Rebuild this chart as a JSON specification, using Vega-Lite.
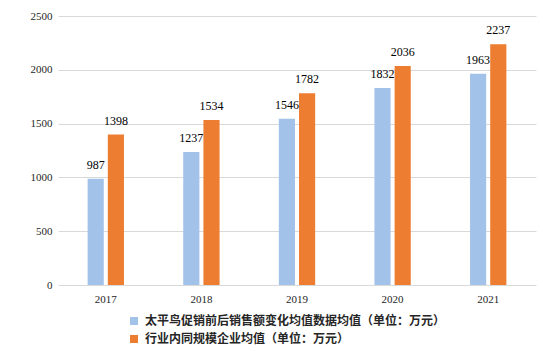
{
  "$schema": "https://vega.github.io/schema/vega-lite/v6.json",
  "width": 478,
  "height": 269,
  "autosize": "none",
  "padding": {"left": 58, "top": 16, "right": 7, "bottom": 66},
  "background": "white",
  "data": {
    "values": [
      {"year": "2017", "series": "太平鸟促销前后销售额变化均值数据均值（单位：万元）", "value": 987},
      {"year": "2017", "series": "行业内同规模企业均值（单位：万元）", "value": 1398},
      {"year": "2018", "series": "太平鸟促销前后销售额变化均值数据均值（单位：万元）", "value": 1237},
      {"year": "2018", "series": "行业内同规模企业均值（单位：万元）", "value": 1534},
      {"year": "2019", "series": "太平鸟促销前后销售额变化均值数据均值（单位：万元）", "value": 1546},
      {"year": "2019", "series": "行业内同规模企业均值（单位：万元）", "value": 1782},
      {"year": "2020", "series": "太平鸟促销前后销售额变化均值数据均值（单位：万元）", "value": 1832},
      {"year": "2020", "series": "行业内同规模企业均值（单位：万元）", "value": 2036},
      {"year": "2021", "series": "太平鸟促销前后销售额变化均值数据均值（单位：万元）", "value": 1963},
      {"year": "2021", "series": "行业内同规模企业均值（单位：万元）", "value": 2237}
    ]
  },
  "encoding": {
    "x": {
      "field": "year", "type": "nominal",
      "scale": {"paddingInner": 0.62, "paddingOuter": 0.31},
      "axis": {
        "title": null, "labelAngle": 0, "ticks": false, "domain": false,
        "labelFont": "Liberation Serif", "labelFontSize": 11, "labelColor": "#262626", "labelPadding": 8
      }
    },
    "xOffset": {
      "field": "series", "type": "nominal",
      "scale": {"paddingInner": 0.2, "domain": ["太平鸟促销前后销售额变化均值数据均值（单位：万元）", "行业内同规模企业均值（单位：万元）"]}
    },
    "y": {
      "field": "value", "type": "quantitative",
      "scale": {"domain": [0, 2500], "nice": false},
      "axis": {
        "title": null, "values": [0, 500, 1000, 1500, 2000, 2500], "format": "d", "ticks": false, "domain": false,
        "gridColor": "#d9d9d9", "gridWidth": 1,
        "labelFont": "Liberation Serif", "labelFontSize": 11, "labelColor": "#262626", "labelPadding": 6
      }
    }
  },
  "layer": [
    {
      "mark": {"type": "bar"},
      "encoding": {
        "color": {
          "field": "series", "type": "nominal",
          "scale": {
            "domain": ["太平鸟促销前后销售额变化均值数据均值（单位：万元）", "行业内同规模企业均值（单位：万元）"],
            "range": ["#a3c2ea", "#ed7d31"]
          },
          "legend": {
            "title": null, "orient": "none", "legendX": 70, "legendY": 299,
            "direction": "vertical", "symbolType": "square", "symbolSize": 64,
            "symbolStrokeWidth": 0, "rowPadding": 6,
            "labelFont": "Noto Sans CJK SC", "labelFontSize": 12, "labelFontWeight": "bold",
            "labelColor": "#262626", "labelLimit": 400, "labelOffset": 5
          }
        }
      }
    },
    {
      "mark": {"type": "text", "baseline": "bottom", "dy": -7, "font": "Liberation Serif", "fontSize": 12, "color": "#000000"},
      "encoding": {
        "text": {"field": "value", "type": "quantitative"}
      }
    },
    {
      "mark": {"type": "rule", "color": "#d9d9d9", "strokeWidth": 1},
      "encoding": {"y": {"datum": 0}}
    }
  ],
  "config": {"view": {"stroke": null}}
}
